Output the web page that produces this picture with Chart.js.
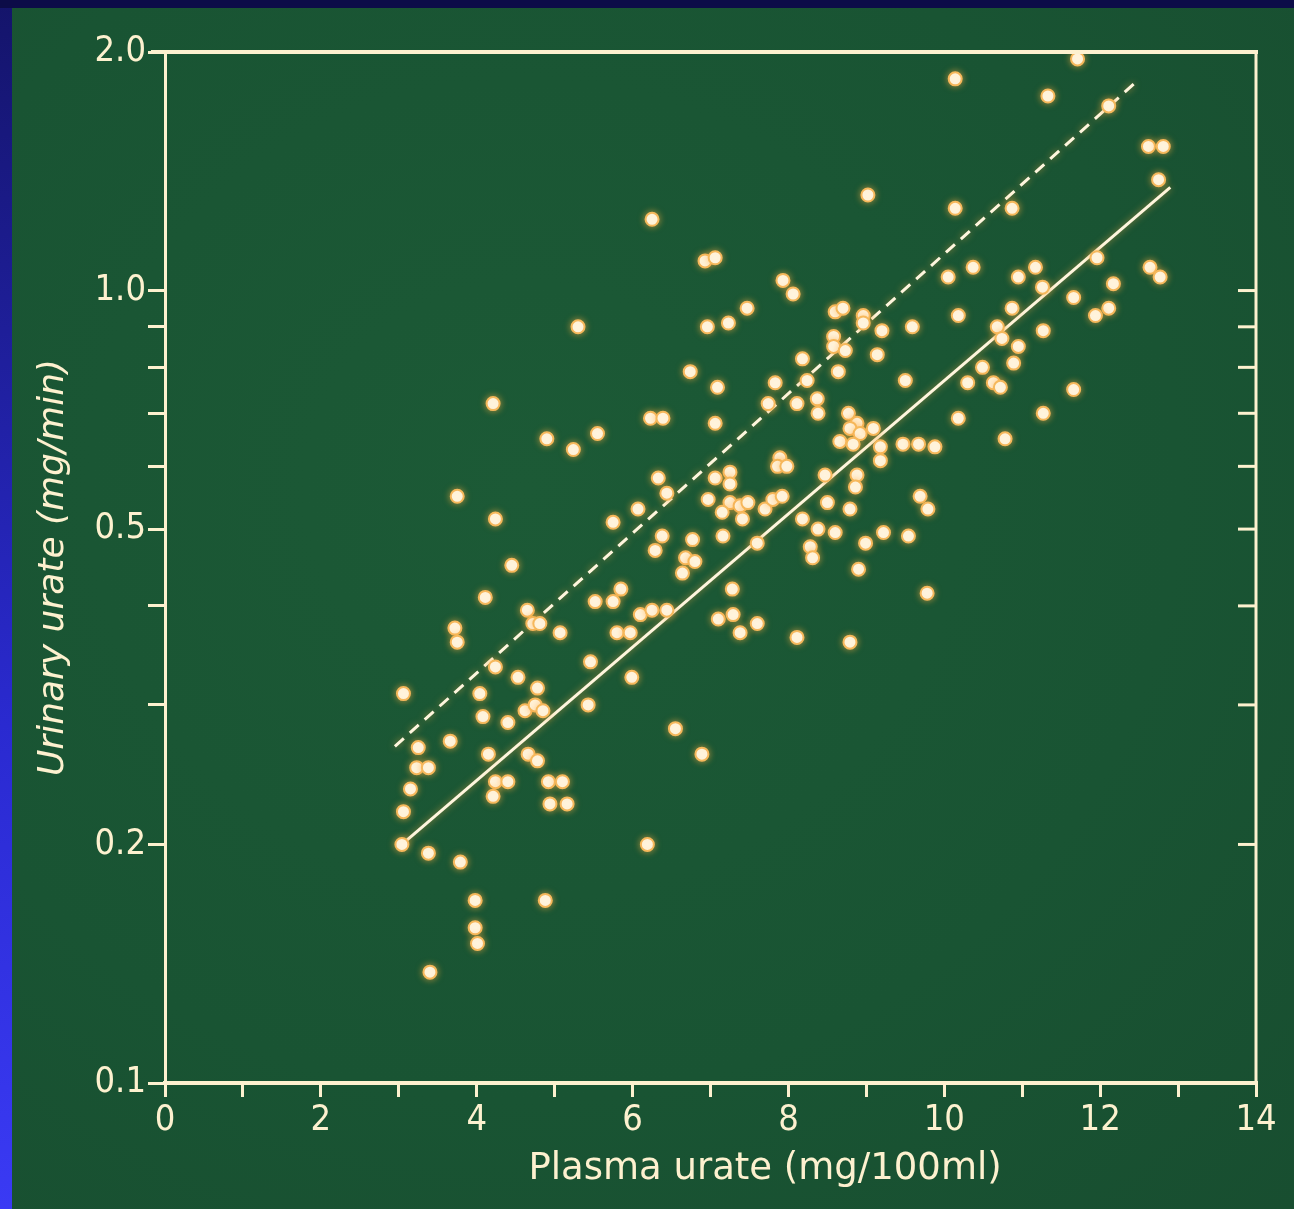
<!DOCTYPE html>
<html>

<head>
  <title>Urinary urate vs plasma urate</title>
  <script src="https://cdn.jsdelivr.net/npm/chart.js"></script>
  <style>
    html, body { margin: 0; padding: 0; width: 1294px; height: 1209px; overflow: hidden; }
    body { background: linear-gradient(180deg, #14146a 0%, #2a2ad0 60%, #3a3af4 100%); }
    #slide {
      position: absolute; left: 12px; top: 8px; width: 1282px; height: 1201px;
      background: radial-gradient(ellipse at 40% 40%, #1c5a36 0%, #195433 60%, #184e30 100%);
    }
    #topbar { position: absolute; left: 0; top: 0; width: 1294px; height: 8px; background: #0c0c48; }
  </style>
</head>

<body>
  <div id="topbar"></div>
  <div id="slide"><canvas id="myChart"></canvas></div>
  <script>
    // plasma urate (mg/100ml) and urinary urate (mg/min), one entry per subject
    var plasmaUrate = [11.71, 10.14, 11.33, 12.11, 12.62, 12.81, 12.75, 9.02, 10.14, 10.87, 6.25, 11.96, 6.93, 7.06, 10.37, 11.17, 12.64, 10.05, 10.95, 12.77, 7.93, 12.17, 11.26, 8.06, 11.66, 10.87, 12.11, 7.47, 8.60, 8.70, 11.94, 10.18, 8.96, 7.23, 8.96, 9.59, 10.68, 6.96, 5.30, 9.20, 11.27, 8.58, 10.74, 8.58, 8.73, 10.95, 9.14, 8.18, 10.89, 10.49, 8.64, 6.74, 10.30, 10.63, 10.72, 9.50, 7.09, 7.83, 8.24, 11.66, 7.74, 8.11, 8.37, 4.21, 8.38, 8.77, 11.27, 10.18, 6.23, 6.39, 7.06, 8.88, 5.55, 8.79, 8.92, 9.09, 10.78, 4.90, 5.24, 8.66, 8.83, 9.18, 9.47, 9.67, 9.88, 9.18, 7.89, 7.86, 7.98, 7.25, 8.47, 8.88, 8.86, 7.06, 7.25, 6.33, 3.75, 6.44, 9.69, 6.97, 7.25, 7.38, 7.48, 7.15, 7.41, 7.70, 7.80, 7.92, 8.50, 8.79, 9.79, 6.07, 4.24, 5.75, 8.18, 8.38, 8.60, 8.99, 9.22, 9.54, 6.38, 6.77, 7.16, 7.60, 6.29, 6.68, 6.80, 8.28, 8.31, 4.45, 8.90, 6.64, 7.28, 9.78, 5.85, 4.11, 4.65, 4.72, 4.81, 5.07, 5.52, 5.75, 6.10, 6.25, 6.44, 5.80, 5.97, 7.10, 7.29, 7.60, 7.38, 8.11, 8.79, 3.72, 3.75, 4.24, 4.53, 5.46, 5.99, 3.06, 4.04, 4.78, 4.62, 4.75, 4.85, 4.08, 4.40, 5.43, 6.55, 6.89, 3.66, 3.25, 4.15, 4.66, 4.78, 3.23, 3.38, 3.15, 4.24, 4.40, 4.21, 4.92, 5.10, 4.94, 5.16, 3.06, 3.04, 3.38, 3.79, 6.19, 3.98, 4.88, 3.98, 4.01, 3.40];
    var urinaryUrate = [1.96, 1.85, 1.76, 1.71, 1.52, 1.52, 1.38, 1.32, 1.27, 1.27, 1.23, 1.10, 1.09, 1.10, 1.07, 1.07, 1.07, 1.04, 1.04, 1.04, 1.03, 1.02, 1.01, 0.99, 0.98, 0.95, 0.95, 0.95, 0.94, 0.95, 0.93, 0.93, 0.93, 0.91, 0.91, 0.90, 0.90, 0.90, 0.90, 0.89, 0.89, 0.875, 0.87, 0.85, 0.84, 0.85, 0.83, 0.82, 0.81, 0.80, 0.79, 0.79, 0.765, 0.765, 0.755, 0.77, 0.755, 0.765, 0.77, 0.75, 0.72, 0.72, 0.73, 0.72, 0.70, 0.70, 0.70, 0.69, 0.69, 0.69, 0.68, 0.68, 0.66, 0.67, 0.66, 0.67, 0.65, 0.65, 0.63, 0.645, 0.64, 0.635, 0.64, 0.64, 0.635, 0.61, 0.615, 0.60, 0.60, 0.59, 0.585, 0.585, 0.565, 0.58, 0.57, 0.58, 0.55, 0.555, 0.55, 0.545, 0.54, 0.535, 0.54, 0.525, 0.515, 0.53, 0.545, 0.55, 0.54, 0.53, 0.53, 0.53, 0.515, 0.51, 0.515, 0.50, 0.495, 0.48, 0.495, 0.49, 0.49, 0.485, 0.49, 0.48, 0.47, 0.46, 0.455, 0.475, 0.46, 0.45, 0.445, 0.44, 0.42, 0.415, 0.42, 0.41, 0.395, 0.38, 0.38, 0.37, 0.405, 0.405, 0.39, 0.395, 0.395, 0.37, 0.37, 0.385, 0.39, 0.38, 0.37, 0.365, 0.36, 0.375, 0.36, 0.335, 0.325, 0.34, 0.325, 0.31, 0.31, 0.315, 0.295, 0.30, 0.295, 0.29, 0.285, 0.30, 0.28, 0.26, 0.27, 0.265, 0.26, 0.26, 0.255, 0.25, 0.25, 0.235, 0.24, 0.24, 0.23, 0.24, 0.24, 0.225, 0.225, 0.22, 0.20, 0.195, 0.19, 0.20, 0.17, 0.17, 0.157, 0.15, 0.138];

    // regression lines (end points)
    var solidLineX = [3.04, 12.90];
    var solidLineY = [0.20, 1.35];
    var dashedLineX = [2.95, 12.48];
    var dashedLineY = [0.266, 1.84];

    // axis ticks
    var xTickValues = [0, 1, 2, 3, 4, 5, 6, 7, 8, 9, 10, 11, 12, 13, 14];
    var xTickLabels = ['0', '', '2', '', '4', '', '6', '', '8', '', '10', '', '12', '', '14'];
    var yTickValues = [0.1, 0.2, 0.3, 0.4, 0.5, 0.6, 0.7, 0.8, 0.9, 1.0, 2.0];
    var yTickLabels = ['0.1', '0.2', '', '', '0.5', '', '', '', '', '1.0', '2.0'];
    var yRightTicks = [0.2, 0.3, 0.4, 0.5, 0.6, 0.7, 0.8, 0.9, 1.0];

    var cream = '#fdf1cf';
    var numFont = "'Liberation Sans Narrow', 'DejaVu Sans Condensed', 'Liberation Sans', sans-serif";
    var textFont = "'DejaVu Sans', sans-serif";

    function zip(xs, ys) {
      return xs.map(function (x, i) { return { x: x, y: ys[i] }; });
    }

    var framePlugin = {
      id: 'frame',
      beforeDatasetsDraw: function (chart) {
        var c = chart.ctx;
        c.save();
        c.shadowColor = 'rgba(255, 175, 70, 0.6)';
        c.shadowBlur = 7;
      },
      afterDatasetsDraw: function (chart) {
        chart.ctx.restore();
      },
      afterDraw: function (chart) {
        var c = chart.ctx, x = chart.scales.x, y = chart.scales.y;
        var top = y.getPixelForValue(2.0), bottom = y.getPixelForValue(0.1);
        var left = x.getPixelForValue(0), right = x.getPixelForValue(14);
        c.save();
        c.strokeStyle = cream;
        c.lineCap = 'butt';
        // top border
        c.lineWidth = 4;
        c.beginPath(); c.moveTo(left - 14, top); c.lineTo(right + 2, top); c.stroke();
        // right border
        c.lineWidth = 3;
        c.beginPath(); c.moveTo(right, top); c.lineTo(right, bottom); c.stroke();
        // inward ticks on the right
        yRightTicks.forEach(function (v) {
          var py = y.getPixelForValue(v);
          c.beginPath(); c.moveTo(right, py); c.lineTo(right - 18, py); c.stroke();
        });
        // x axis title
        c.fillStyle = cream;
        c.font = '37px ' + textFont;
        c.textAlign = 'center';
        c.textBaseline = 'middle';
        c.fillText('Plasma urate (mg/100ml)', x.getPixelForValue(7.7), bottom + 86);
        c.restore();
      }
    };

    var ctx = document.getElementById('myChart').getContext('2d');
    var myChart = new Chart(ctx, {
      type: 'scatter',
      data: {
        datasets: [{
          label: 'Subjects',
          data: zip(plasmaUrate, urinaryUrate),
          pointRadius: 6.5,
          backgroundColor: '#fffef4',
          borderColor: '#f6b85c',
          borderWidth: 2
        }, {
          label: 'Solid line',
          data: zip(solidLineX, solidLineY),
          showLine: true,
          pointRadius: 0,
          borderColor: '#fff6de',
          borderWidth: 3
        }, {
          label: 'Dashed line',
          data: zip(dashedLineX, dashedLineY),
          showLine: true,
          pointRadius: 0,
          borderColor: '#fff6de',
          borderWidth: 3,
          borderDash: [12, 8]
        }]
      },
      options: {
        animation: false,
        responsive: true,
        maintainAspectRatio: false,
        layout: { padding: { top: 44, right: 38, left: 0, bottom: 0 } },
        plugins: { legend: { display: false }, tooltip: { enabled: false } },
        scales: {
          x: {
            type: 'linear',
            min: 0,
            max: 14,
            afterBuildTicks: function (scale) {
              scale.ticks = xTickValues.map(function (v) { return { value: v }; });
            },
            afterFit: function (scale) { scale.height = 126; },
            ticks: {
              autoSkip: false,
              maxRotation: 0,
              padding: 2,
              color: cream,
              font: { size: 36, family: numFont },
              callback: function (value, i) { return xTickLabels[i]; }
            },
            grid: { drawOnChartArea: false, drawTicks: true, tickLength: 14, color: cream, lineWidth: 3 },
            border: { display: true, color: cream, width: 4 }
          },
          y: {
            type: 'logarithmic',
            min: 0.1,
            max: 2.0,
            afterBuildTicks: function (scale) {
              scale.ticks = yTickValues.map(function (v) { return { value: v }; });
            },
            afterFit: function (scale) { scale.width = 153; },
            ticks: {
              autoSkip: false,
              padding: 2,
              color: cream,
              font: { size: 36, family: numFont },
              callback: function (value, i) { return yTickLabels[i]; }
            },
            grid: { drawOnChartArea: false, drawTicks: true, tickLength: 17, color: cream, lineWidth: 3 },
            border: { display: true, color: cream, width: 3 },
            title: {
              display: true,
              text: 'Urinary urate (mg/min)',
              color: cream,
              font: { size: 36, style: 'italic', family: textFont },
              padding: { top: 20, bottom: 0 }
            }
          }
        }
      },
      plugins: [framePlugin]
    });
  </script>
</body>

</html>
